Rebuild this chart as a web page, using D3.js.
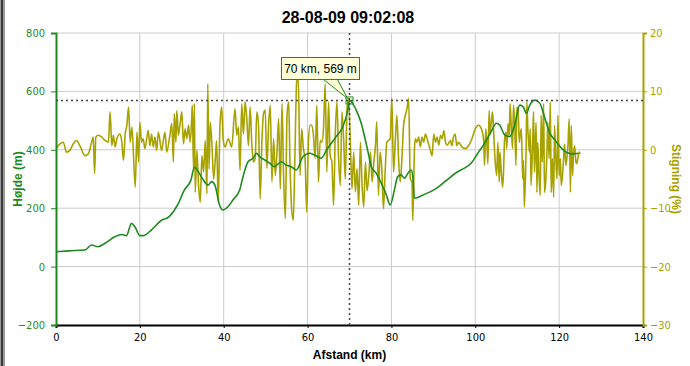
<!DOCTYPE html>
<html>
<head>
<meta charset="utf-8">
<script src="https://cdn.jsdelivr.net/npm/d3@7"></script>
<style>
  html, body { margin: 0; padding: 0; background: #fff; }
  svg { display: block; }
  .tick text { font-family: "Liberation Sans Narrow", "DejaVu Sans Condensed", "Liberation Sans", sans-serif; font-size: 11px; }
</style>
</head>
<body>
<svg id="chart" width="690" height="366"></svg>
<script>
// data
const title = '28-08-09 09:02:08';

// elevation (m) against distance (km)
const elevKm = [0, 3, 6.9, 8.5, 10, 11.7, 14, 15.6, 16.8, 18, 18.8, 20, 20.8, 22.7, 25, 27, 29, 30.6, 32.2, 33,
  34.4, 35.1, 36.3, 37.1, 37.9, 39.0, 39.8, 41.0, 42.2, 43.8, 44.6, 45.8, 47.0, 47.8, 48.6, 49.8, 51.0, 52.1,
  53.7, 54.9, 56.1, 57.3, 58.9, 60.5, 61.7, 63.3, 64.5, 66.8, 68.4, 69.6, 70, 71.6, 72.8, 73.6, 74.4, 75.2,
  76.4, 77.6, 78.8, 79.7, 80.7, 81.5, 82.3, 83.1, 83.9, 84.7, 85.1, 85.5, 87.5, 90.7, 93.0, 95.8, 97.4, 99.0,
  100.6, 102.2, 103.8, 105.0, 105.8, 107.0, 108.2, 109.4, 110.6, 111.4, 112.2, 113.0, 114.2, 115.4, 116.6,
  117.8, 119.0, 120.6, 121.8, 123.4, 124.6];
const elevM = [51, 54, 57, 74, 68, 80, 102, 110, 106, 148, 137, 106, 106, 125, 157, 171, 211, 262, 297, 340,
  314, 297, 279, 291, 279, 211, 194, 205, 228, 262, 308, 359, 371, 388, 376, 365, 354, 342,
  359, 348, 342, 331, 376, 388, 382, 371, 399, 445, 479, 536, 569, 536, 491, 445, 394, 342,
  319, 285, 245, 211, 262, 308, 314, 302, 319, 331, 308, 234, 245, 268, 294, 325, 337, 354,
  388, 422, 462, 491, 485, 451, 445, 485, 553, 548, 525, 553, 570, 559, 508,
  456, 434, 405, 391, 386, 388];

// gradient (%) against distance (km)
const gradeKm = [0, 0.95, 1.75, 2.5, 3.3, 4.1, 4.9, 5.7, 6.9, 7.7, 8.5, 8.9, 9.2, 9.5, 10.1, 10.9, 11.7, 12.5,
  12.9, 13.3, 13.7, 14.1, 14.5, 15.3, 15.7, 16.1, 16.5, 16.9, 17.3, 17.7, 18.1, 18.9, 19.3, 19.7, 20.0, 20.4,
  20.8, 21.2, 22.0, 22.4, 22.8, 23.2, 23.6, 24.0, 24.4, 25.2, 25.6, 26.0, 26.4, 27.2, 27.6, 28.0, 28.2, 28.6,
  28.8, 29.2, 29.6, 30.0, 30.4, 30.8, 31.2, 31.6, 32.0, 32.4, 32.5, 32.8, 33.0, 33.2, 33.6, 34.0, 34.4, 34.8,
  35.2, 35.6, 36.0, 36.2, 36.5, 36.8, 37.2, 37.6, 38.0, 38.3, 38.7, 39.1, 39.5, 39.9, 40.3, 41.1, 41.9, 42.7,
  43.1, 43.5, 43.9, 44.3, 44.7, 45.1, 45.5, 45.9, 46.3, 46.7, 47.1, 47.5,
  47.9, 48.3, 48.7, 49.1, 49.5, 49.9, 50.3, 50.7, 51.1, 51.5, 51.9, 52.3, 52.7, 53.1, 53.5, 53.9, 54.3, 54.7,
  55.1, 55.5, 55.8, 56.2, 56.6, 57.0, 57.4, 57.8, 58.2, 58.6, 59.0, 59.4, 59.8, 60.2, 60.6, 61.0, 61.4, 61.8,
  62.2, 62.6, 63.0, 63.4, 63.8, 64.2, 64.6, 65.0, 65.4, 65.8, 66.2, 66.6, 67.0, 67.4, 67.8, 68.2, 68.6, 69.0,
  69.4, 69.8, 70.2, 70.6, 71.0, 71.4, 71.8, 72.2, 72.6, 73.0, 73.4, 73.8, 74.2, 74.6, 75.0, 75.4, 75.8, 76.2,
  76.5, 76.9, 77.3, 77.7, 78.1, 78.5, 78.9, 79.7, 80.1, 80.5, 80.9, 81.3, 81.7, 82.1, 82.5, 82.9, 83.3, 83.7,
  84.1, 84.5, 84.9, 85.1, 85.5, 85.7, 86.1, 86.5, 86.9, 87.3, 87.7, 88.1, 88.5, 89.3, 89.7, 90.1, 90.5, 90.9,
  91.3, 91.7, 92.1, 92.5, 92.9, 93.3, 94.1,
  94.4, 94.8, 95.2, 95.6, 96.0, 96.8, 97.6, 98.4, 99.2, 100.0, 100.8, 101.6, 102.0, 102.2, 102.5, 102.8, 103.0,
  103.3, 103.5, 103.8, 104.1, 104.3, 104.7, 105.1, 105.4, 105.7, 105.9, 106.2, 106.5, 106.7, 107.0, 107.3,
  107.5, 107.8, 108.1, 108.3, 108.6, 108.9, 109.1, 109.4, 109.7, 109.9, 110.2, 110.5, 110.7, 111.0, 111.3,
  111.5, 111.7, 112.1, 112.3, 112.5, 112.9, 113.1, 113.3, 113.7, 113.9, 114.1, 114.5, 114.7, 114.9, 115.2,
  115.5, 115.7, 116.0, 116.3, 116.5, 116.8, 117.1, 117.3, 117.6, 117.9, 118.1, 118.4, 118.7, 118.9, 119.2,
  119.5, 119.7, 120.0, 120.3, 120.5, 120.8, 121.1, 121.3, 121.6, 121.9, 122.1, 122.4, 122.7, 122.9, 123.2,
  123.4, 123.7, 124.0, 124.2, 124.5, 124.8, 125.0];
const gradePct = [0.2, 1.0, 1.3, -0.4, -0.1, 1.0, 1.6, 0.7, -1.0, -0.7, 1.3, 2.2, -4.1, 2.2, 2.5, 2.2, 1.6, 1.3,
  6.5, 0.7, 2.5, 0.5, 1.9, 2.7, 1.3, -1.8, 2.7, 4.2, 7.3, 1.3, 3.9, -6.4, 3.0, -2.1, 4.7, 1.3,
  1.9, 0.2, 3.3, 0.7, 2.7, 0.5, 2.2, -0.1, 3.0, -0.1, 1.6, 3.0, -0.4, 2.7, 4.5, -2.1, 6.2, 1.3,
  6.7, 2.5, 4.5, 6.5, 1.0, 3.6, 1.9, 4.2, 1.3, 5.9, 7.6, -3.3, 7.9, -7.3, -0.1, -6.1, -9.0, -1.0,
  -3.8, 1.6, -7.5, 11.3, -3.3, 4.7, 0.7, -5.0, -1.5, 1.6, -9.0, 4.2, 7.3, 1.6, 0.5, 1.9, 0.5, 7.0,
  2.5, 3.9, -3.5, 7.9, 2.7, 8.2, 5.3, 0.7, 7.3, 1.0, -2.1, -1.5,
  6.5, 4.2, -8.4, 1.3, 6.2, 6.8, -3.2, 4.2, 7.6, -5.5, 1.9, -4.4, -0.4, 5.3, -6.7, 7.9, -5.0, -11.8,
  5.9, 8.2, -2.1, -10.1, -12.1, -0.4, 11.6, 12.2, -4.4, 3.6, 0.2, -1.5, -10.7, 1.3, 4.2, 4.2, 2.5, -1.5,
  7.6, -5.5, 1.6, 1.3, 3.6, 11.3, -3.8, 8.2, -1.0, -2.1, -9.5, 2.5, 8.2, -1.5, -6.1, 6.5, 1.9, -5.0,
  7.0, 8.8, 1.3, -6.7, -0.4, -7.2, -3.2, -9.5, 1.3, -6.1, -9.8, -2.1, -7.0, -4.4, -0.4, -5.5, -2.1, 0.8,
  4.8, -7.8, -0.4, -3.3, -10.1, -3.8, 1.3, 1.9, 8.8, -3.8, 1.3, 5.9, -1.5, -5.5, -1.5, 4.2, 5.9, 7.0,
  8.8, -5.0, -5.5, -12.1, 0.2, 1.9, 1.3, 2.2, 0.5, 2.2, 1.3, 2.7, 1.9, -0.1, -1.0, 2.7, 1.3, 2.2,
  0.8, 2.5, 1.9, 3.3, 1.3, 0.8, 1.6,
  0.7, 2.2, 2.7, 0.7, 1.3, 0.5, 0.2, 0.7, 1.9, 3.6, 4.2, 3.3, 1.6, -2.7, 3.6, 0.7, -2.4,
  6.7, 2.7, 4.5, 6.5, 4.2, -1.5, -4.4, 1.3, -5.5, -0.4, -3.8, -6.4, -4.4, 1.9, 3.0,
  0.2, 4.5, 2.5, 7.9, 3.6, 0.2, 7.6, 4.7, -2.7, 7.3, 7.0, 1.3, 2.5, 3.6, -5.0,
  -1.8, -9.8, -0.7, 8.2, 4.2, -0.4, 3.6, -6.1, 1.9, 6.5, -3.8, 4.7, -7.3, 1.3, -4.4,
  -7.8, 5.9, -2.1, 7.9, -7.3, -5.5, -0.1, 4.7, -1.5, 8.2, -7.3, -1.5, -8.1, 4.2, -1.5,
  -5.0, 5.9, -4.4, -1.5, -6.1, -4.4, -1.0, 1.0, -2.7, -1.0, 0.7, 5.3, -7.3, 4.2, -4.4,
  -1.0, 0.7, -2.1, -2.4, -1.3, -0.4, -0.7];

// ticks
const xTicks = [0, 20, 40, 60, 80, 100, 120, 140];
const leftTicks = [-200, 0, 200, 400, 600, 800];
const rightTicks = [-30, -20, -10, 0, 10, 20];

// cursor readout
const cursorKm = 70;
const cursorM = 569;

// colours
const green = '#1f8a1f';
const olive = '#a8a200';
const grid = '#cccccc';

const svg = d3.select('#chart');
const margin = { top: 33, right: 47, bottom: 41, left: 56 };
const width = 690, height = 366;

const x = d3.scaleLinear().domain([0, 140]).range([margin.left, width - margin.right]);
const yL = d3.scaleLinear().domain([-200, 800]).range([height - margin.bottom, margin.top]);
const yR = d3.scaleLinear().domain([-30, 20]).range([height - margin.bottom, margin.top]);

// window edge on the left
svg.append('rect').attr('x', 0).attr('y', 0).attr('width', 5).attr('height', height).attr('fill', '#9a9a9a');
svg.append('rect').attr('x', 1).attr('y', 0).attr('width', 2).attr('height', height).attr('fill', '#3c3c3c');

// grid
svg.append('g')
  .selectAll('line')
  .data(xTicks.slice(1, -1))
  .enter()
  .append('line')
  .attr('x1', d => x(d)).attr('x2', d => x(d))
  .attr('y1', yL(800)).attr('y2', yL(-200))
  .attr('stroke', grid).attr('stroke-width', 1);

svg.append('g')
  .selectAll('line')
  .data(leftTicks.slice(1))
  .enter()
  .append('line')
  .attr('x1', x(0)).attr('x2', x(140))
  .attr('y1', d => yL(d)).attr('y2', d => yL(d))
  .attr('stroke', grid).attr('stroke-width', 1);

// series
const gradeData = gradeKm.map((k, i) => ({ km: k, v: gradePct[i] }));
const elevData = elevKm.map((k, i) => ({ km: k, v: elevM[i] }));

svg.append('path')
  .datum(gradeData)
  .attr('fill', 'none')
  .attr('stroke', olive)
  .attr('stroke-width', 1.6)
  .attr('stroke-linejoin', 'round')
  .attr('d', d3.line().x(d => x(d.km)).y(d => yR(d.v)).curve(d3.curveMonotoneX));

svg.append('path')
  .datum(elevData)
  .attr('fill', 'none')
  .attr('stroke', green)
  .attr('stroke-width', 1.6)
  .attr('d', d3.line().x(d => x(d.km)).y(d => yL(d.v)).curve(d3.curveMonotoneX));

// axes
const xAxis = svg.append('g')
  .attr('transform', `translate(0,${yL(-200)})`)
  .call(d3.axisBottom(x).tickValues(xTicks).tickSize(3).tickPadding(5));
xAxis.select('.domain').attr('stroke', '#000').attr('stroke-width', 2);
xAxis.selectAll('.tick line').attr('stroke', '#000');
xAxis.selectAll('.tick text').attr('fill', '#000');

const leftAxis = svg.append('g')
  .attr('transform', `translate(${x(0)},0)`)
  .call(d3.axisLeft(yL).tickValues(leftTicks).tickSize(5).tickPadding(6));
leftAxis.select('.domain').attr('stroke', green).attr('stroke-width', 2);
leftAxis.selectAll('.tick line').attr('stroke', green);
leftAxis.selectAll('.tick text').attr('fill', green);

const rightAxis = svg.append('g')
  .attr('transform', `translate(${x(140)},0)`)
  .call(d3.axisRight(yR).tickValues(rightTicks).tickSize(4).tickPadding(3));
rightAxis.select('.domain').attr('stroke', olive).attr('stroke-width', 2);
rightAxis.selectAll('.tick line').attr('stroke', olive);
rightAxis.selectAll('.tick text').attr('fill', olive);

// crosshair
const cx = x(cursorKm), cy = yL(cursorM);
svg.append('line')
  .attr('x1', cx).attr('x2', cx).attr('y1', yL(800)).attr('y2', yL(-200))
  .attr('stroke', '#444').attr('stroke-width', 1.5).attr('stroke-dasharray', '2,3');
svg.append('line')
  .attr('x1', x(0)).attr('x2', x(140)).attr('y1', cy).attr('y2', cy)
  .attr('stroke', '#444').attr('stroke-width', 1.5).attr('stroke-dasharray', '2,3');
svg.append('rect')
  .attr('x', cx - 3.5).attr('y', cy - 3.5).attr('width', 7).attr('height', 7)
  .attr('fill', 'none').attr('stroke', green).attr('stroke-width', 1);

// readout box
const bx = 281.5, by = 57.5, bw = 78, bh = 22;
svg.append('path')
  .attr('d', `M${bx + 42},${by + bh} L${cx - 2},${cy - 2} L${bx + 56},${by + bh}`)
  .attr('fill', '#ffffd8').attr('stroke', green).attr('stroke-width', 1);
svg.append('rect')
  .attr('x', bx).attr('y', by).attr('width', bw).attr('height', bh)
  .attr('fill', '#ffffd8').attr('stroke', green).attr('stroke-width', 1);
svg.append('text')
  .attr('x', bx + bw / 2).attr('y', by + 15)
  .attr('text-anchor', 'middle')
  .attr('font-family', '"Liberation Sans", Arial, sans-serif')
  .attr('font-size', 12)
  .attr('fill', '#000')
  .text(`${cursorKm} km, ${cursorM} m`);

// titles
svg.append('text')
  .attr('x', 348).attr('y', 23)
  .attr('text-anchor', 'middle')
  .attr('font-family', '"Liberation Sans", Arial, sans-serif')
  .attr('font-weight', 'bold')
  .attr('font-size', 16)
  .text(title);

svg.append('text')
  .attr('x', (x(0) + x(140)) / 2).attr('y', 359)
  .attr('text-anchor', 'middle')
  .attr('font-family', '"Liberation Sans", Arial, sans-serif')
  .attr('font-weight', 'bold')
  .attr('font-size', 12)
  .text('Afstand (km)');

svg.append('text')
  .attr('transform', `translate(22,${(yL(800) + yL(-200)) / 2}) rotate(-90)`)
  .attr('text-anchor', 'middle')
  .attr('font-family', '"Liberation Sans", Arial, sans-serif')
  .attr('font-weight', 'bold')
  .attr('font-size', 12)
  .attr('fill', green)
  .text('Højde (m)');

svg.append('text')
  .attr('transform', `translate(672,${(yR(20) + yR(-30)) / 2}) rotate(90)`)
  .attr('text-anchor', 'middle')
  .attr('font-family', '"Liberation Sans", Arial, sans-serif')
  .attr('font-weight', 'bold')
  .attr('font-size', 12)
  .attr('fill', olive)
  .text('Stigning (%)');
</script>
</body>
</html>
